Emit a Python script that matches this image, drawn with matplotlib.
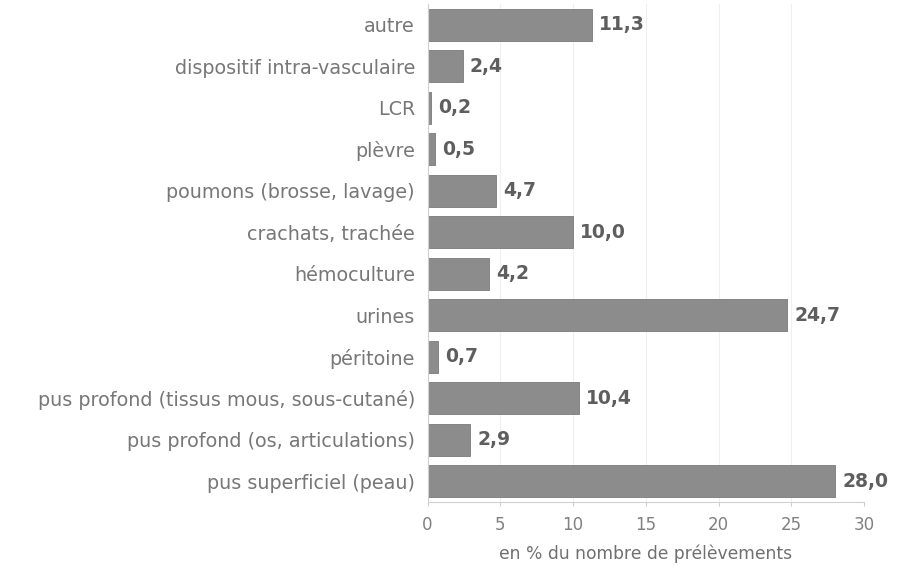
import matplotlib
matplotlib.use('Agg')
import matplotlib.pyplot as plt

# Types de prélèvements (bas -> haut)
categories = ['pus superficiel (peau)', 'pus profond (os, articulations)',
              'pus profond (tissus mous, sous-cutané)', 'péritoine', 'urines',
              'hémoculture', 'crachats, trachée', 'poumons (brosse, lavage)',
              'plèvre', 'LCR', 'dispositif intra-vasculaire', 'autre']
values = [28.0, 2.9, 10.4, 0.7, 24.7, 4.2, 10.0, 4.7, 0.5, 0.2, 2.4, 11.3]
xticks = [0, 5, 10, 15, 20, 25, 30]

plt.rcParams['font.family'] = ['DejaVu Sans']

fig = plt.figure(figsize=(9.04, 5.69), dpi=100)
ax = fig.add_axes([0.473, 0.118, 0.483, 0.875])

pos = range(len(categories))
ax.barh(pos, values, height=0.77, color='#8c8c8c', edgecolor='#7a7a7a', linewidth=0.6)

for y, v in zip(pos, values):
    ax.text(v + 0.5, y, f'{v:.1f}'.replace('.', ','), va='center', ha='left',
            fontsize=13.5, fontweight='bold', color='#5e5e5e')

ax.set_ylim(-0.5, len(categories) - 0.5)
ax.set_xlim(0, 30)
ax.set_yticks(list(pos))
ax.set_yticklabels(categories, fontsize=13.8, color='#777777')
ax.set_xticks(xticks)
ax.set_xticklabels([str(t) for t in xticks], fontsize=12, color='#808080')
ax.tick_params(axis='y', length=0, pad=9)
ax.tick_params(axis='x', length=3, color='#cccccc', pad=7)
ax.set_xlabel('en % du nombre de prélèvements', fontsize=12.3, color='#707070', labelpad=8)

ax.xaxis.grid(True, color='#efefef', linewidth=0.8)
ax.set_axisbelow(True)
for side in ['top', 'right']:
    ax.spines[side].set_visible(False)
ax.spines['left'].set_color('#d0d0d0')
ax.spines['bottom'].set_color('#d0d0d0')

fig.set_facecolor('white')
fig.savefig('out.png', dpi=100)
